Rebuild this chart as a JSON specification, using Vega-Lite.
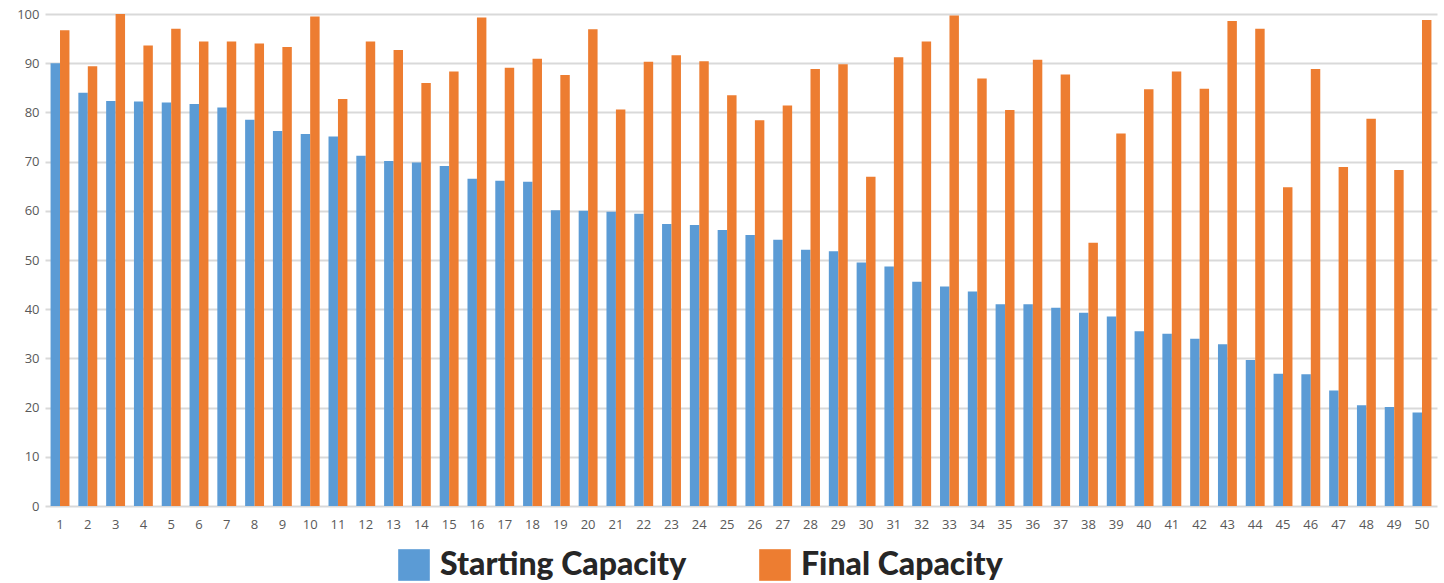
{
  "$schema": "https://vega.github.io/schema/vega-lite/v6.json",
  "width": 1392,
  "height": 492,
  "autosize": {"type": "none"},
  "padding": {"left": 45, "top": 14, "right": 7, "bottom": 77},
  "background": "white",
  "datasets": {
    "start": [
      {"id":1,"v":90.0},{"id":2,"v":84.0},{"id":3,"v":82.3},{"id":4,"v":82.2},{"id":5,"v":82.0},
      {"id":6,"v":81.7},{"id":7,"v":81.0},{"id":8,"v":78.5},{"id":9,"v":76.2},{"id":10,"v":75.6},
      {"id":11,"v":75.1},{"id":12,"v":71.2},{"id":13,"v":70.1},{"id":14,"v":69.8},{"id":15,"v":69.1},
      {"id":16,"v":66.5},{"id":17,"v":66.1},{"id":18,"v":65.9},{"id":19,"v":60.1},{"id":20,"v":60.0},
      {"id":21,"v":59.8},{"id":22,"v":59.4},{"id":23,"v":57.3},{"id":24,"v":57.1},{"id":25,"v":56.1},
      {"id":26,"v":55.1},{"id":27,"v":54.1},{"id":28,"v":52.1},{"id":29,"v":51.8},{"id":30,"v":49.5},
      {"id":31,"v":48.7},{"id":32,"v":45.6},{"id":33,"v":44.6},{"id":34,"v":43.6},{"id":35,"v":41.0},
      {"id":36,"v":41.0},{"id":37,"v":40.3},{"id":38,"v":39.3},{"id":39,"v":38.5},{"id":40,"v":35.5},
      {"id":41,"v":35.0},{"id":42,"v":34.0},{"id":43,"v":32.9},{"id":44,"v":29.7},{"id":45,"v":26.9},
      {"id":46,"v":26.8},{"id":47,"v":23.5},{"id":48,"v":20.5},{"id":49,"v":20.1},{"id":50,"v":19.0}
    ],
    "final": [
      {"id":1,"v":96.7},{"id":2,"v":89.4},{"id":3,"v":100.0},{"id":4,"v":93.6},{"id":5,"v":97.0},
      {"id":6,"v":94.4},{"id":7,"v":94.4},{"id":8,"v":94.0},{"id":9,"v":93.3},{"id":10,"v":99.5},
      {"id":11,"v":82.7},{"id":12,"v":94.4},{"id":13,"v":92.7},{"id":14,"v":86.0},{"id":15,"v":88.3},
      {"id":16,"v":99.3},{"id":17,"v":89.1},{"id":18,"v":90.9},{"id":19,"v":87.6},{"id":20,"v":96.9},
      {"id":21,"v":80.6},{"id":22,"v":90.3},{"id":23,"v":91.6},{"id":24,"v":90.4},{"id":25,"v":83.5},
      {"id":26,"v":78.4},{"id":27,"v":81.4},{"id":28,"v":88.8},{"id":29,"v":89.8},{"id":30,"v":66.9},
      {"id":31,"v":91.2},{"id":32,"v":94.4},{"id":33,"v":99.7},{"id":34,"v":86.9},{"id":35,"v":80.5},
      {"id":36,"v":90.7},{"id":37,"v":87.7},{"id":38,"v":53.5},{"id":39,"v":75.7},{"id":40,"v":84.7},
      {"id":41,"v":88.3},{"id":42,"v":84.8},{"id":43,"v":98.6},{"id":44,"v":97.0},{"id":45,"v":64.8},
      {"id":46,"v":88.8},{"id":47,"v":68.9},{"id":48,"v":78.7},{"id":49,"v":68.3},{"id":50,"v":98.8}
    ]
  },
  "data": {"name": "start"},
  "transform": [
    {"lookup": "id", "from": {"data": {"name": "final"}, "key": "id", "fields": ["v"]}, "as": ["fv"]},
    {"fold": ["v", "fv"], "as": ["k", "value"]},
    {"calculate": "datum.k == 'v' ? 'Starting Capacity' : 'Final Capacity'", "as": "series"}
  ],
  "mark": {"type": "bar"},
  "encoding": {
    "x": {
      "field": "id", "type": "ordinal", "sort": "ascending",
      "scale": {"paddingInner": 0.32, "paddingOuter": 0.2},
      "axis": {"title": null, "labelAngle": 0, "labelFontSize": 13, "labelColor": "#595959", "labelFont": "Open Sans",
               "ticks": false, "domain": false, "labelPadding": 12, "grid": false}
    },
    "xOffset": {"field": "series", "type": "nominal", "scale": {"domain": ["Starting Capacity", "Final Capacity"]}},
    "y": {
      "field": "value", "type": "quantitative",
      "scale": {"domain": [0, 100], "nice": false},
      "axis": {"title": null, "values": [0,10,20,30,40,50,60,70,80,90,100], "labelFontSize": 13, "labelColor": "#595959",
               "labelFont": "Open Sans", "ticks": false, "domain": false, "labelPadding": 6,
               "gridColor": "#d9d9d9", "gridWidth": 2}
    },
    "color": {
      "field": "series", "type": "nominal",
      "scale": {"domain": ["Starting Capacity", "Final Capacity"], "range": ["#5B9BD5", "#ED7D31"]},
      "legend": {"title": null, "orient": "none", "direction": "horizontal", "legendX": 353, "legendY": 535,
                 "symbolType": "square", "symbolSize": 1000, "symbolStrokeWidth": 0, "symbolOpacity": 1,
                 "labelFontSize": 32, "labelFont": "Lato", "labelFontWeight": 900, "labelColor": "#262626",
                 "labelLimit": 0, "columnPadding": 72, "labelOffset": 10}
    }
  },
  "config": {"view": {"stroke": null}}
}
